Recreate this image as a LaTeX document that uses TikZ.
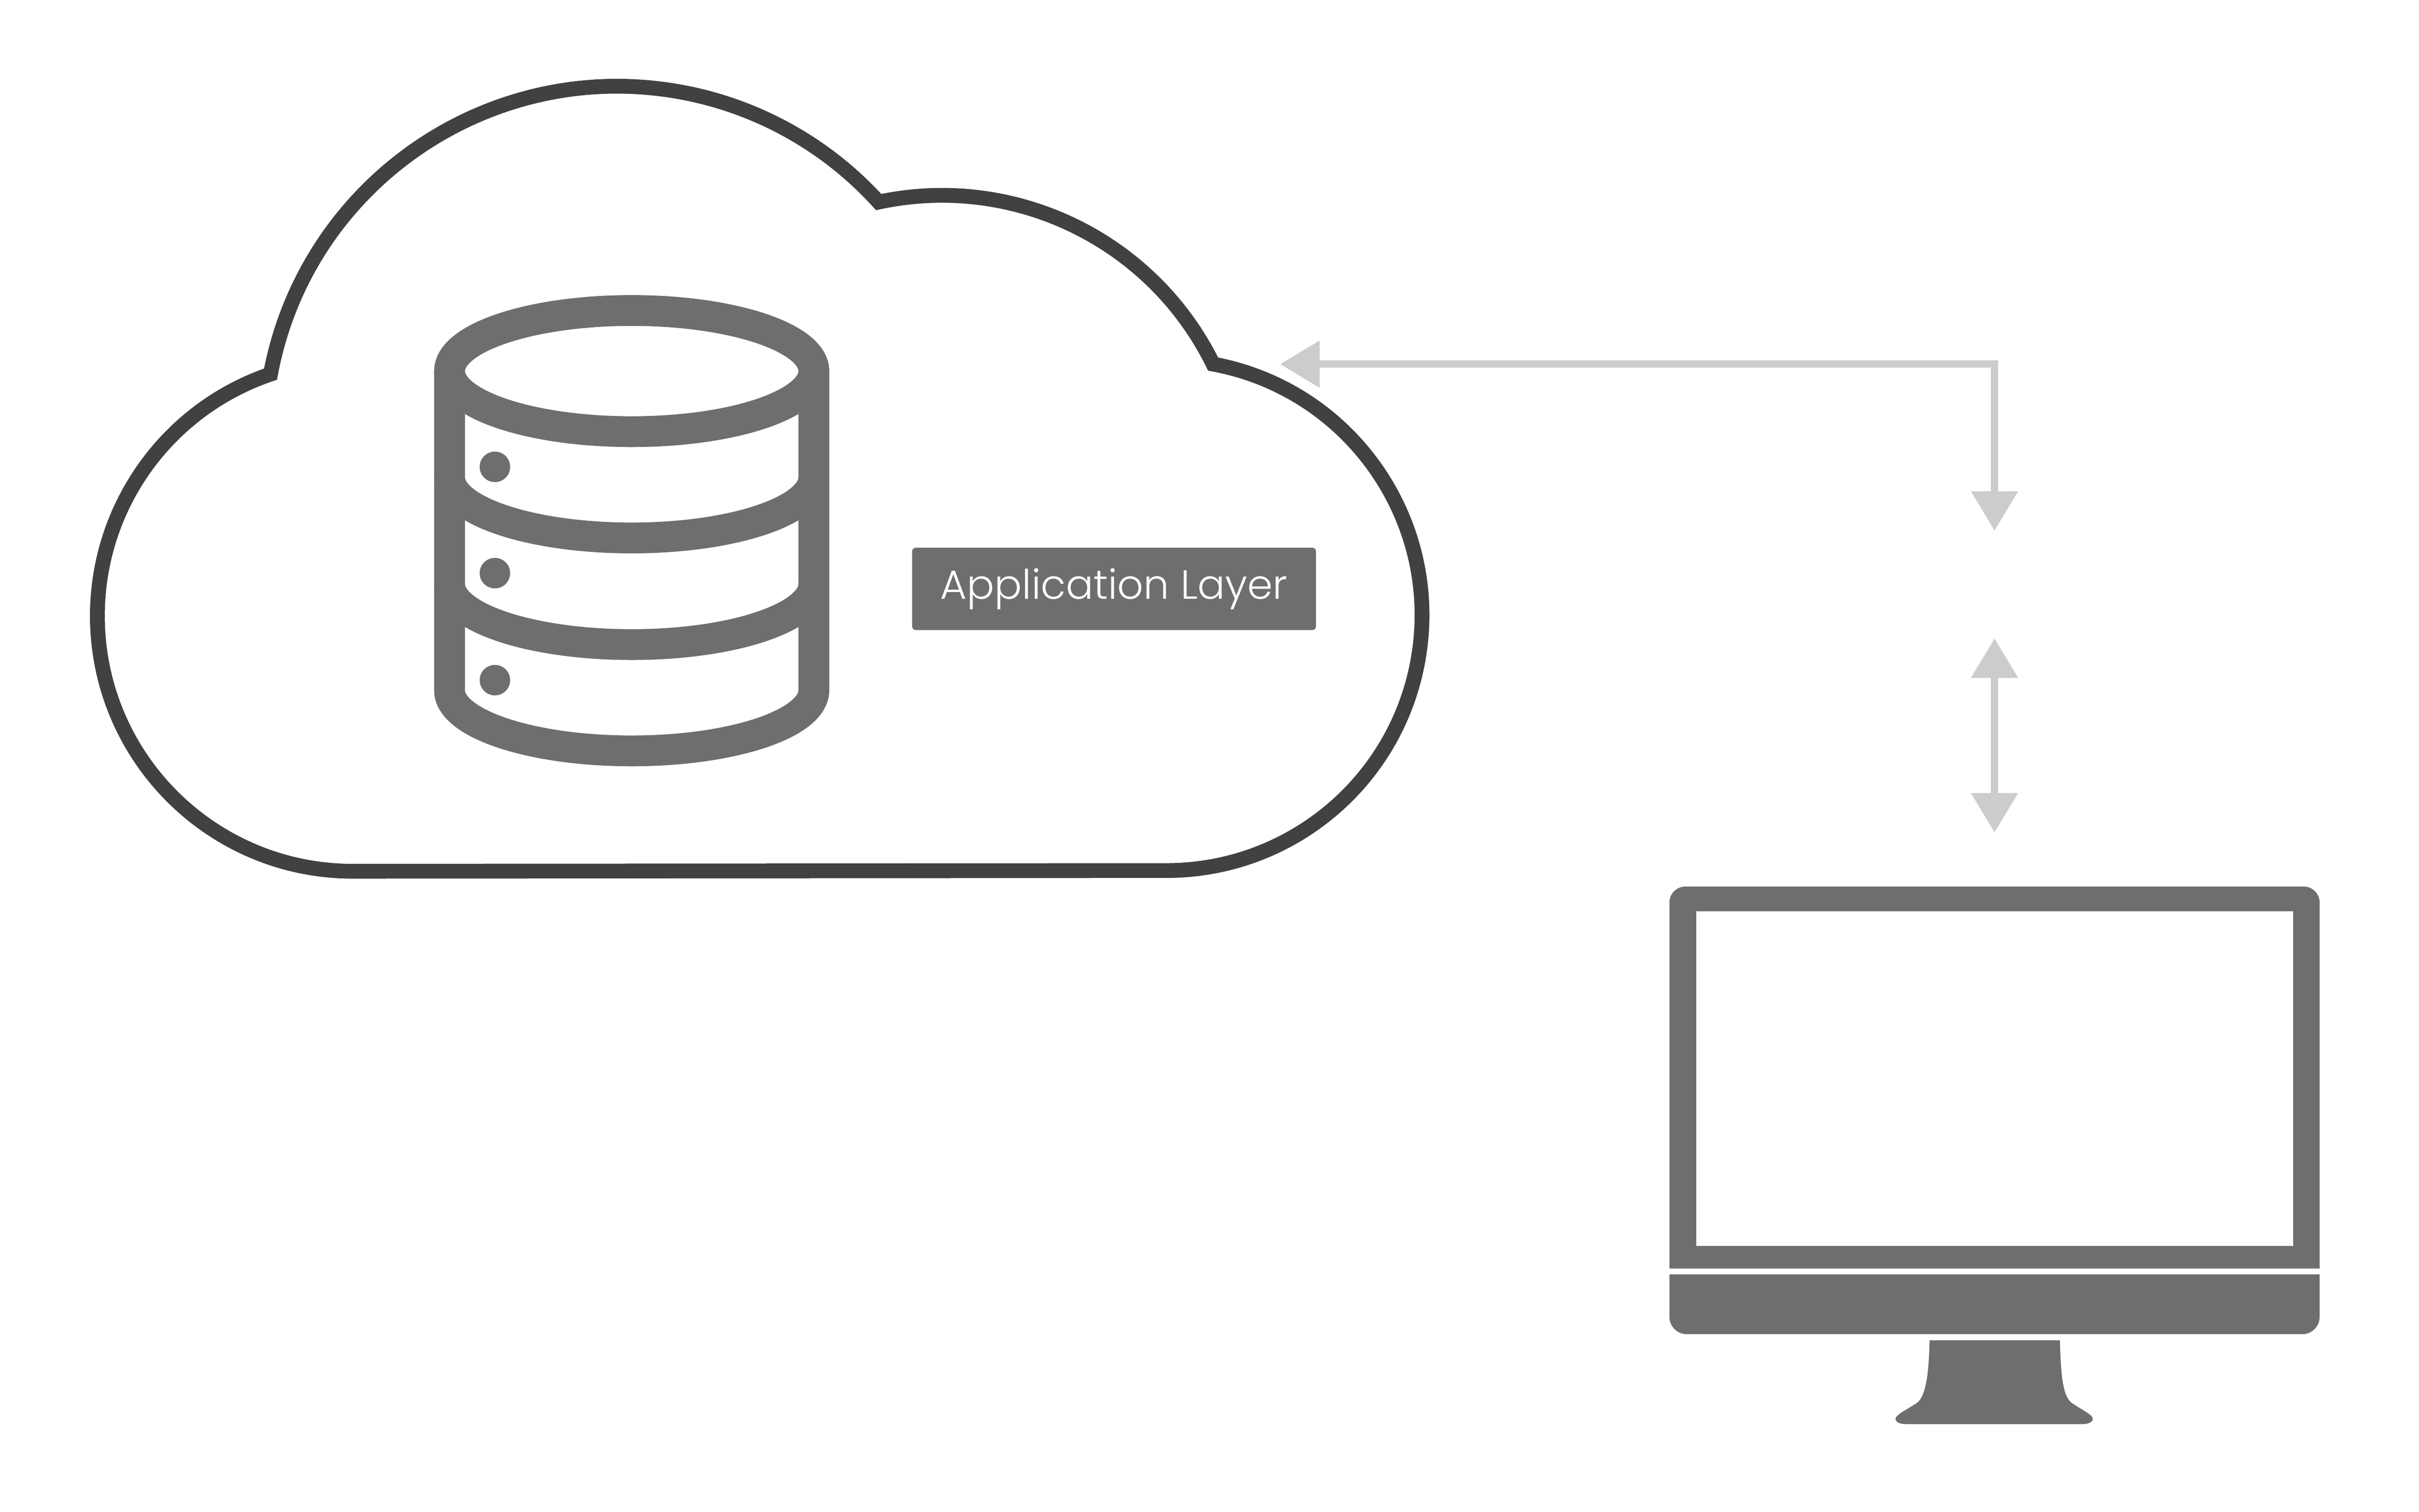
\documentclass[tikz,border=0pt]{standalone}
\usepackage{fontspec}
\usetikzlibrary{arrows.meta}
\newfontfamily\applabelfont{Poppins Light}
\definecolor{cloudline}{HTML}{414042}
\definecolor{icongray}{HTML}{6D6E70}
\definecolor{linkgray}{HTML}{CCCCCC}
\tikzset{
  cloudshape/.style={draw=cloudline, line width=2.9pt, miter limit=10},
  dbline/.style={draw=icongray, line width=6.04pt},
  link/.style={draw=linkgray, line width=1.42pt, -{Triangle[length=2.72mm,width=3.12mm,fill=linkgray]}},
  twolink/.style={link, {Triangle[length=2.72mm,width=3.12mm,fill=linkgray]}-{Triangle[length=2.72mm,width=3.12mm,fill=linkgray]}},
  applabel/.style={fill=icongray, text=white, rounded corners=0.025cm, minimum width=2.7825cm, minimum height=0.5675cm, inner sep=0pt}
}

\begin{document}
\begin{tikzpicture}

\useasboundingbox (0,0) rectangle (16.6675,10.4175);

% cloud
\draw[cloudshape] (2.431,4.413) arc (270:108.8:1.76) arc (169.4:42.2:2.431) arc (102.1:26.2:2.082) arc (79.5:-90:1.76) -- cycle;

% database
\draw[dbline] (4.3525,7.86) ellipse (1.255 and 0.4175);
\draw[dbline] (3.0975,7.86) -- (3.0975,5.66) arc (180:360:1.255 and 0.4175) -- (5.6075,7.86);
\draw[dbline] (3.0975,7.1275) arc (180:360:1.255 and 0.4175);
\draw[dbline] (3.0975,6.3925) arc (180:360:1.255 and 0.4175);
\foreach \y in {7.2,6.4675,5.73}
  \fill[icongray] (3.41,\y) circle (0.105);

\node[applabel] (app) at (7.676,6.359) {\applabelfont\fontsize{8}{10}\selectfont Application Layer};

% links
\coordinate (cloudend) at (8.82,7.9075);
\coordinate (corner) at (13.7425,7.9075);
\coordinate (gapTop) at (13.7425,6.76);
\coordinate (gapBottom) at (13.7425,6.0175);
\coordinate (screenend) at (13.7425,4.68);
\draw[link] (corner) -- (cloudend);
\draw[link, line cap=rect] (corner) -- (gapTop);
\draw[twolink] (gapBottom) -- (screenend);

% monitor
\fill[icongray, even odd rule] (11.5025,1.675) -- (11.5025,4.1975) arc (180:90:0.11) -- (15.8725,4.3075) arc (90:0:0.11) -- (15.9825,1.675) -- cycle
  (11.6875,1.83) rectangle (15.8,4.1375);
\fill[icongray] (11.5025,1.635) -- (11.5025,1.3425) arc (180:270:0.12) -- (15.8625,1.2225) arc (270:360:0.12) -- (15.9825,1.635) -- cycle;
\fill[icongray] (13.295,1.18) .. controls (13.29,0.95) and (13.27,0.8) .. (13.21,0.75) .. controls (13.12,0.69) and (13.03,0.655) .. (13.07,0.62) .. controls (13.08,0.61) and (13.1,0.6025) .. (13.14,0.6025) -- (14.34,0.6025) .. controls (14.38,0.6025) and (14.4,0.61) .. (14.41,0.62) .. controls (14.45,0.655) and (14.36,0.69) .. (14.2725,0.75) .. controls (14.21,0.8) and (14.2,0.95) .. (14.1925,1.18) -- cycle;

\end{tikzpicture}
\end{document}
